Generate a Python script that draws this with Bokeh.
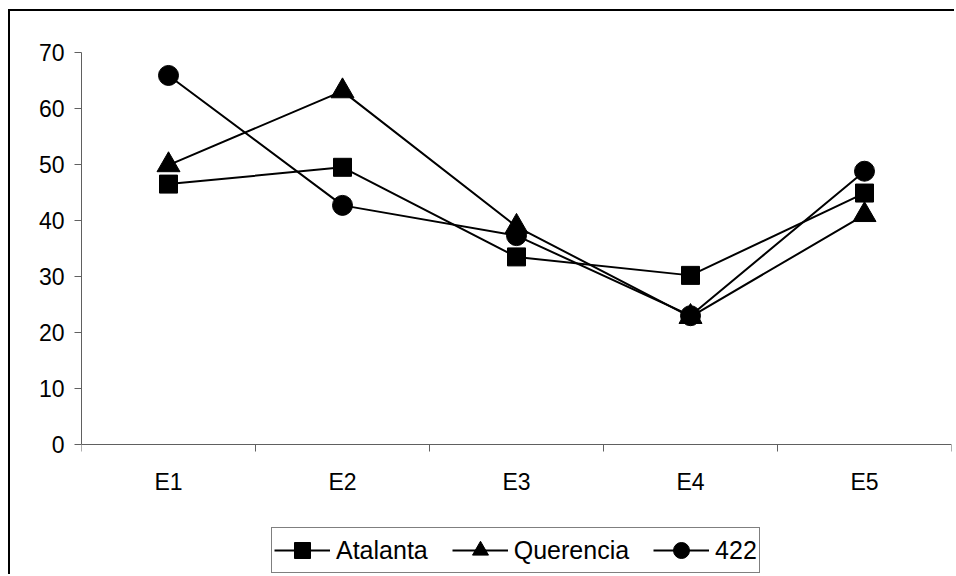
from bokeh.plotting import figure
from bokeh.models import FixedTicker, Legend, LegendItem, Range1d
from bokeh.embed import file_html
from bokeh.resources import INLINE

categories = ["E1", "E2", "E3", "E4", "E5"]
atalanta = [46.5, 49.5, 33.5, 30.2, 44.9]
querencia = [49.9, 63.1, 38.9, 22.8, 41.0]
s422 = [65.9, 42.7, 37.3, 23.0, 48.8]
y_ticks = [0, 10, 20, 30, 40, 50, 60, 70]

FONT = "Liberation Sans"
xs = list(range(1, len(categories) + 1))

# plot area: value axis 0..70 occupies 392 px; 130 px of room kept below it for labels + legend
Y_MAX = 70
Y_MIN = -Y_MAX * 130 / 392

p = figure(width=946, height=565, output_backend="svg", toolbar_location=None,
           x_range=Range1d(0.5, len(categories) + 0.5), y_range=Range1d(Y_MIN, Y_MAX),
           min_border_left=71, min_border_top=41, min_border_right=5, min_border_bottom=2)
p.styles = {"border-top": "2px solid #000", "border-left": "2px solid #000",
            "margin-left": "8px", "margin-top": "9px"}
p.outline_line_color = None
p.xgrid.visible = False
p.ygrid.visible = False

# x axis sits at y = 0: labels at centres, tick marks between categories
p.xaxis.fixed_location = 0
p.xaxis.ticker = FixedTicker(ticks=xs, minor_ticks=[x - 0.5 for x in xs] + [xs[-1] + 0.5])
p.xaxis.major_label_overrides = {x: c for x, c in zip(xs, categories)}
p.xaxis.major_tick_out = 0
p.xaxis.major_tick_in = 0
p.xaxis.minor_tick_out = 7
p.xaxis.minor_tick_in = 0
p.xaxis.major_label_standoff = 17

p.yaxis.ticker = FixedTicker(ticks=y_ticks)
p.yaxis.bounds = (0, Y_MAX)
p.yaxis.major_tick_out = 7
p.yaxis.major_tick_in = 0
p.yaxis.major_label_standoff = 10

for ax in (p.xaxis, p.yaxis):
    ax.axis_line_color = "#606060"
    ax.major_tick_line_color = "#606060"
    ax.minor_tick_line_color = "#606060"
    ax.major_label_text_font = FONT
    ax.major_label_text_font_size = "23px"
    ax.major_label_text_color = "#000000"
p.yaxis.minor_tick_line_color = None

items = []
l1 = p.line(xs, atalanta, line_color="black", line_width=2)
m1 = p.scatter(xs, atalanta, marker="square", size=18, color="black")
items.append(LegendItem(label="Atalanta", renderers=[l1, m1]))
l2 = p.line(xs, querencia, line_color="black", line_width=2)
m2 = p.scatter(xs, querencia, marker="triangle", size=23, color="black")
items.append(LegendItem(label="Querencia", renderers=[l2, m2]))
l3 = p.line(xs, s422, line_color="black", line_width=2)
m3 = p.scatter(xs, s422, marker="circle", size=20, color="black")
items.append(LegendItem(label="422", renderers=[l3, m3]))

legend = Legend(items=items, orientation="horizontal", location=(190, 1))
legend.border_line_color = "black"
legend.border_line_width = 1
legend.glyph_width = 56
legend.glyph_height = 40
legend.label_standoff = 6
legend.spacing = 24
legend.padding = 2
legend.margin = 0
legend.label_text_font = FONT
legend.label_text_font_size = "25px"
legend.label_text_color = "black"
p.add_layout(legend, "center")

open("out.html", "w").write(file_html(p, INLINE))
